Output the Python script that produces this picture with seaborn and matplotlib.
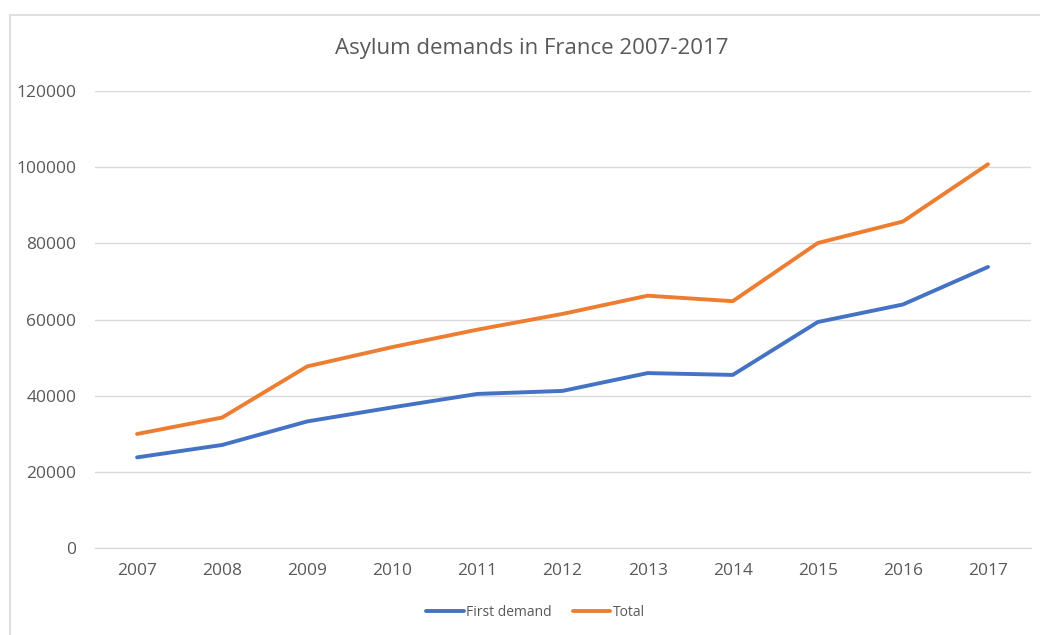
import matplotlib
matplotlib.use("Agg")
import matplotlib.pyplot as plt
from matplotlib.patches import Rectangle
import pandas as pd
import seaborn as sns

# Data
years = ["2007", "2008", "2009", "2010", "2011", "2012",
         "2013", "2014", "2015", "2016", "2017"]
first_demand = [23800, 27060, 33240, 36930, 40460, 41250,
                45930, 45450, 59340, 63940, 73800]
total = [29940, 34260, 47690, 52760, 57340, 61470,
         66250, 64810, 80080, 85730, 100760]
series_names = ["First demand", "Total"]
colors = ["#4472C4", "#ED7D31"]
y_ticks = [0, 20000, 40000, 60000, 80000, 100000, 120000]

df = pd.DataFrame({
    "year": years * 2,
    "value": first_demand + total,
    "series": [series_names[0]] * len(years) + [series_names[1]] * len(years),
})
df["pos"] = list(range(len(years))) * 2

sns.set_theme(style="white")
plt.rcParams["font.family"] = ["Open Sans", "DejaVu Sans"]
text_color = "#595959"
grid_color = "#d9d9d9"

fig = plt.figure(figsize=(10.40, 6.35), dpi=100)
ax = fig.add_axes([0.0909, 0.137, 0.9, 0.7197])

sns.lineplot(data=df, x="pos", y="value", hue="series",
             palette=colors, linewidth=2.8, ax=ax, legend=False,
             solid_capstyle="round")

ax.set_xlim(-0.5, len(years) - 0.5)
ax.set_ylim(0, 120000)
ax.set_xticks(range(len(years)))
ax.set_xticklabels(years)
ax.set_yticks(y_ticks)
ax.set_yticklabels([str(t) for t in y_ticks])
ax.tick_params(axis="both", length=0, labelsize=12.5, labelcolor=text_color)
ax.tick_params(axis="x", pad=11)
ax.tick_params(axis="y", pad=13)
ax.set_xlabel("")
ax.set_ylabel("")

ax.yaxis.grid(True, color=grid_color, linewidth=1)
ax.set_axisbelow(True)
for side in ["top", "right", "left"]:
    ax.spines[side].set_visible(False)
ax.spines["bottom"].set_color(grid_color)
ax.spines["bottom"].set_linewidth(1)

fig.text(0.511, 0.924, "Asylum demands in France 2007-2017",
         ha="center", va="center", fontsize=16, color=text_color)

handles = [plt.Line2D([], [], color=c, linewidth=2.8) for c in colors]
fig.legend(handles, series_names, loc="center", bbox_to_anchor=(0.515, 0.035),
           ncol=2, frameon=False, fontsize=10, labelcolor=text_color,
           handlelength=2.7, handletextpad=0.2, columnspacing=1.5)

# light chart frame
fig.patches.append(Rectangle((10 / 1040, -0.01), 1.0, (635 - 15) / 635 + 0.01,
                             transform=fig.transFigure, fill=False,
                             edgecolor=grid_color, linewidth=1.2))

fig.savefig("out.png", dpi=100, facecolor="white")
